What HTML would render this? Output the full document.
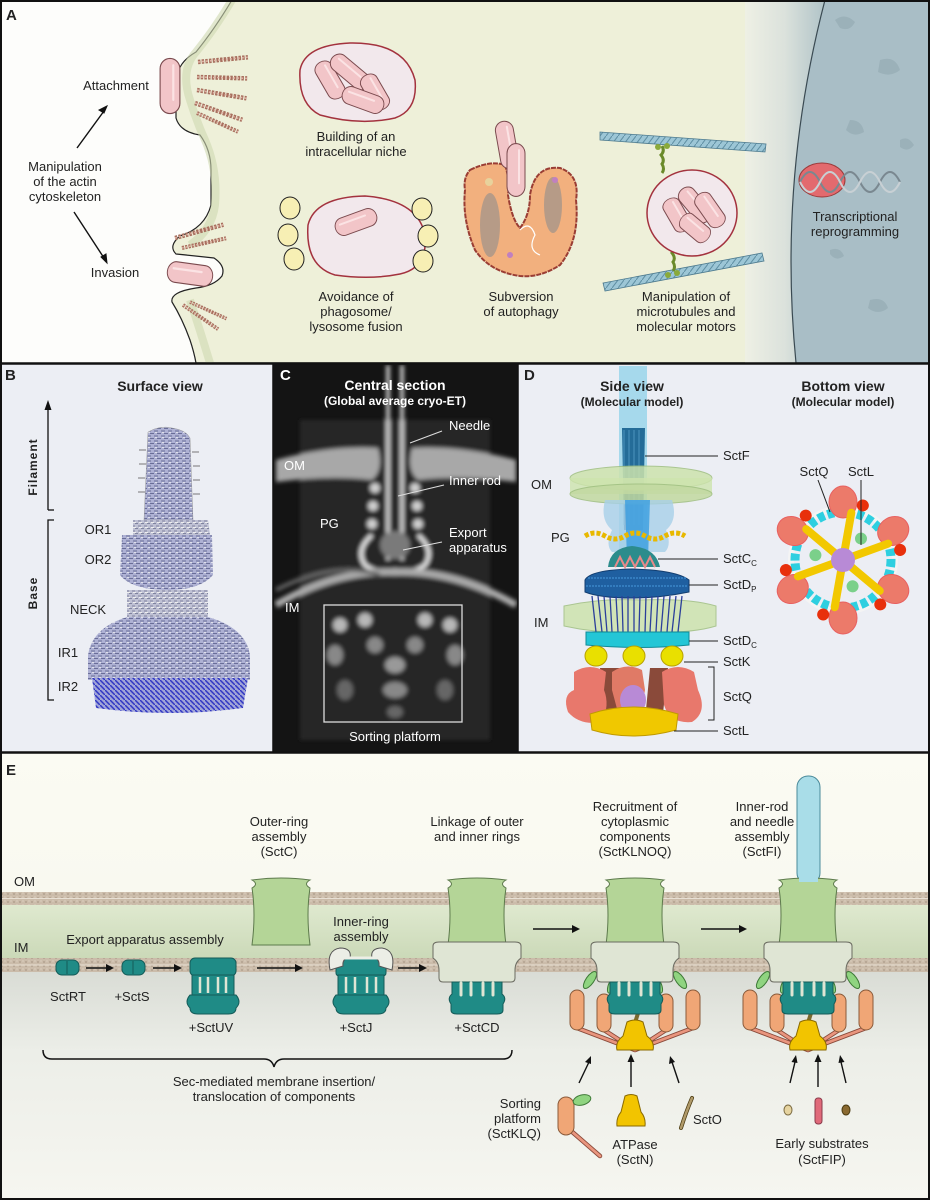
<!DOCTYPE html>
<html><head><meta charset="utf-8"><style>
html,body{margin:0;padding:0;background:#fff}
svg{display:block}
text{font-family:"Liberation Sans",sans-serif;fill:#222}
.t{font-size:13px}
.b{font-weight:bold}
.w{fill:#fff}
</style></head><body>
<svg width="930" height="1200" viewBox="0 0 930 1200" xmlns="http://www.w3.org/2000/svg">
<defs>
<filter id="bl" x="-20%" y="-20%" width="140%" height="140%"><feGaussianBlur stdDeviation="2.2"/></filter>
<linearGradient id="nuc" x1="0" x2="1"><stop offset="0" stop-color="#eef0e6"/><stop offset="0.5" stop-color="#d9e0dc"/><stop offset="1" stop-color="#a9bec6"/></linearGradient>
<linearGradient id="peri" x1="0" y1="0" x2="0" y2="1"><stop offset="0" stop-color="#dfe9cf"/><stop offset="1" stop-color="#cbd9b8"/></linearGradient>
<linearGradient id="cyto" x1="0" y1="0" x2="0" y2="1"><stop offset="0" stop-color="#d9dcd5"/><stop offset="0.35" stop-color="#eceee8"/><stop offset="1" stop-color="#f6f6f0"/></linearGradient>
<linearGradient id="ebg" x1="0" y1="0" x2="0" y2="1"><stop offset="0" stop-color="#fbfbf3"/><stop offset="1" stop-color="#f4f4ea"/></linearGradient>
<pattern id="mem" width="6" height="4" patternUnits="userSpaceOnUse"><rect width="6" height="4" fill="#cbbcaa"/><circle cx="2" cy="2" r="1" fill="#b3a290"/><circle cx="5" cy="1" r="0.7" fill="#ded2c2"/></pattern>
<pattern id="tex" width="7" height="5" patternUnits="userSpaceOnUse"><rect width="7" height="5" fill="#aeb1d4"/><path d="M0 1h4M3 3.5h4" stroke="#6a6e98" stroke-width="1.1"/><path d="M1 2.5h2" stroke="#e0e1ea" stroke-width="1"/></pattern>
<pattern id="tex2" width="6" height="5" patternUnits="userSpaceOnUse"><rect width="6" height="5" fill="#bfc1d4"/><path d="M0 1h3M3 3.5h3" stroke="#80849f" stroke-width="1"/><path d="M1 2.5h3" stroke="#eeeeee" stroke-width="1"/></pattern>
<pattern id="tex3" width="5" height="5" patternUnits="userSpaceOnUse"><rect width="5" height="5" fill="#a0a4d8"/><path d="M0 0l5 5" stroke="#3036c4" stroke-width="1.5"/></pattern>
<pattern id="mt" width="6" height="8" patternUnits="userSpaceOnUse"><rect width="6" height="8" fill="#9cc6d6"/><path d="M0 8L6 0" stroke="#5f8fa3" stroke-width="1"/></pattern>
<g id="bact"><rect x="-24" y="-9" width="48" height="18" rx="9" fill="#f2c5c8" stroke="#7a4a4e" stroke-width="1"/><path d="M-18 -3h30" stroke="#fbe3e4" stroke-width="2" stroke-linecap="round"/></g>
<g id="actin"><path d="M0 0l50 4" stroke="#a8705f" stroke-width="4.5" stroke-dasharray="2.5 1.2"/><path d="M0 0l50 4" stroke="#e0b4a6" stroke-width="1.5" stroke-dasharray="2 2"/></g>
<path id="barrel" d="M-29 880 Q-22 884 -29 888 Q-25 914 -29 945 L29 945 Q25 914 29 888 Q22 884 29 880 Q0 876 -29 880Z" fill="#b4d597" stroke="#5d7a4c" stroke-width="1"/>
<g id="core">
<use href="#barrel"/>
<path d="M-44 946 Q-44 942 -38 942 L38 942 Q44 942 44 946 L44 958 Q38 962 38 970 L38 978 Q38 982 34 982 L-34 982 Q-38 982 -38 978 L-38 970 Q-38 962 -44 958Z" fill="#dfe5d4" stroke="#6a6a60" stroke-width="1"/>
<path d="M-25 982 L25 982 L25 994 Q30 998 26 1004 L26 1010 Q26 1014 20 1014 L-20 1014 Q-26 1014 -26 1010 L-26 1004 Q-30 998 -25 994Z" fill="#1f8b86" stroke="#145b58" stroke-width="1"/>
<path d="M-16 983v12M-6 983v12M6 983v12M16 983v12" stroke="#dfe5d4" stroke-width="3" stroke-linecap="round"/>
</g>
<g id="plat">
<path d="M-58 1028 L0 1050 M-31 1030 L0 1050 M31 1030 L0 1050 M58 1028 L0 1050" stroke="#8a4a3a" stroke-width="4.5" stroke-linecap="round"/>
<path d="M-58 1028 L0 1050 M-31 1030 L0 1050 M31 1030 L0 1050 M58 1028 L0 1050" stroke="#e9957e" stroke-width="2.8" stroke-linecap="round"/>
<rect x="-65" y="990" width="14" height="40" rx="7" fill="#f0a676" stroke="#8a5a3a"/>
<rect x="-38" y="994" width="14" height="38" rx="7" fill="#f0a676" stroke="#8a5a3a"/>
<rect x="24" y="994" width="14" height="38" rx="7" fill="#f0a676" stroke="#8a5a3a"/>
<rect x="51" y="990" width="14" height="40" rx="7" fill="#f0a676" stroke="#8a5a3a"/>
<ellipse cx="-45" cy="980" rx="4" ry="10" transform="rotate(35 -45 980)" fill="#8fd480" stroke="#3f7a38"/>
<ellipse cx="-22" cy="984" rx="4" ry="10" transform="rotate(25 -22 984)" fill="#8fd480" stroke="#3f7a38"/>
<ellipse cx="22" cy="984" rx="4" ry="10" transform="rotate(-25 22 984)" fill="#8fd480" stroke="#3f7a38"/>
<ellipse cx="45" cy="980" rx="4" ry="10" transform="rotate(-35 45 980)" fill="#8fd480" stroke="#3f7a38"/>
<path d="M4 1010 L-1 1026" stroke="#7a6a30" stroke-width="4" stroke-linecap="round"/>
<path d="M-8 1022 Q0 1018 8 1022 L12 1036 Q20 1042 18 1050 L-18 1050 Q-20 1042 -12 1036Z" fill="#f2c400" stroke="#8a6a00"/>
</g>
</defs>

<!-- ================= PANEL A ================= -->
<rect x="0" y="0" width="930" height="363" fill="#fdfdfb"/>
<path d="M232 0 Q214 30 196 52 Q178 62 176 80 L176 118 Q180 132 200 135 Q211 150 211 170 L211 205 Q205 228 180 236 Q168 246 176 254 Q196 256 214 258 Q226 266 222 276 Q214 286 196 288 Q170 292 172 302 Q182 318 190 340 Q194 352 196 363 L930 363 L930 0Z" fill="#eef0d9" stroke="#222" stroke-width="1.2"/>
<path d="M232 0 Q214 30 196 52 Q180 70 190 100 Q196 120 205 140 Q218 170 215 205 Q212 230 190 245 M190 300 Q200 330 210 363" stroke="#cfd8b0" stroke-width="8" fill="none" opacity="0.6"/>
<path d="M745 0 L825 0 Q785 180 796 363 L745 363Z" fill="url(#nuc)" opacity="0.9"/>
<path d="M825 0 Q778 180 796 363 L930 363 L930 0Z" fill="#a9bec6" stroke="#3a4a52" stroke-width="1.2"/>
<path d="M835 20 q10 -8 20 2 q-5 10 -15 6z M880 60 q15 -5 20 10 q-10 8 -22 2z M850 120 q12 0 14 12 q-10 6 -18 -2z M900 140 q8 -5 14 5 q-6 8 -14 2z M870 300 q14 -4 18 8 q-10 8 -20 0z M830 250 q10 -4 14 6 q-8 6 -14 -2z" fill="#9bb1b9"/>
<text x="6" y="20" class="b" font-size="15">A</text>
<use href="#bact" transform="translate(170 86) rotate(90) scale(1.15 1.1)"/>
<use href="#actin" transform="translate(198 62) rotate(-10)"/>
<use href="#actin" transform="translate(197 77) rotate(-3)"/>
<use href="#actin" transform="translate(197 90) rotate(5)"/>
<use href="#actin" transform="translate(195 103) rotate(15)"/>
<use href="#actin" transform="translate(197 113) rotate(20) scale(0.9)"/>
<use href="#actin" transform="translate(175 238) rotate(-20)"/>
<use href="#actin" transform="translate(182 248) rotate(-17) scale(0.9)"/>
<use href="#actin" transform="translate(183 305) rotate(30) scale(0.85)"/>
<use href="#actin" transform="translate(190 302) rotate(20) scale(0.8)"/>
<use href="#bact" transform="translate(190 274) rotate(8) scale(0.95 1.15)"/>
<text x="116" y="90" class="t" text-anchor="middle">Attachment</text>
<text x="65" y="171" class="t" text-anchor="middle">Manipulation</text>
<text x="65" y="186" class="t" text-anchor="middle">of the actin</text>
<text x="65" y="201" class="t" text-anchor="middle">cytoskeleton</text>
<text x="115" y="277" class="t" text-anchor="middle">Invasion</text>
<path d="M77 148 L104 111" stroke="#111" stroke-width="1.4"/><path d="M107 106 l-8 4 l5 3z" fill="#111" stroke="#111"/>
<path d="M74 212 L104 258" stroke="#111" stroke-width="1.4"/><path d="M107 263 l-1 -9 l-5 3z" fill="#111" stroke="#111"/>
<path d="M300 70 Q305 45 350 43 Q405 42 415 80 Q418 110 395 118 Q360 126 320 115 Q298 104 300 70Z" fill="#f2e8ec" stroke="#a3323e" stroke-width="1.5"/>
<use href="#bact" transform="translate(330 80) rotate(60) scale(0.85 1)"/>
<use href="#bact" transform="translate(350 72) rotate(40) scale(0.95 1)"/>
<use href="#bact" transform="translate(375 92) rotate(60) scale(0.8 1)"/>
<use href="#bact" transform="translate(363 100) rotate(20) scale(0.9 1)"/>
<text x="356" y="141" class="t" text-anchor="middle">Building of an</text>
<text x="356" y="156" class="t" text-anchor="middle">intracellular niche</text>
<path d="M308 225 Q315 197 365 196 Q418 200 425 235 Q428 268 400 274 Q370 280 335 275 Q305 266 308 225Z" fill="#f2e8ec" stroke="#a3323e" stroke-width="1.5"/>
<use href="#bact" transform="translate(356 222) rotate(-20) scale(0.9 1)"/>
<g fill="#f7efb4" stroke="#222" stroke-width="1"><ellipse cx="290" cy="208" rx="10" ry="11"/><ellipse cx="288" cy="235" rx="10" ry="11"/><ellipse cx="294" cy="259" rx="10" ry="11"/><ellipse cx="422" cy="209" rx="10" ry="11"/><ellipse cx="428" cy="236" rx="10" ry="11"/><ellipse cx="423" cy="261" rx="10" ry="11"/></g>
<text x="356" y="301" class="t" text-anchor="middle">Avoidance of</text>
<text x="356" y="316" class="t" text-anchor="middle">phagosome/</text>
<text x="356" y="331" class="t" text-anchor="middle">lysosome fusion</text>
<path d="M470 170 Q490 160 505 165 Q510 180 508 195 Q512 220 520 228 Q530 215 530 195 Q535 165 560 168 Q580 175 576 200 Q580 240 560 265 Q540 278 520 276 Q490 272 475 250 Q462 220 465 190 Q463 178 470 170Z" fill="#f2b07e" stroke="#9a3d34" stroke-width="2" stroke-dasharray="5 1"/>
<ellipse cx="490" cy="225" rx="10" ry="32" fill="#8e8e8e" opacity="0.6"/>
<ellipse cx="553" cy="205" rx="9" ry="28" fill="#8e8e8e" opacity="0.6"/>
<path d="M520 230 q10 -10 15 5 q-8 15 5 20" stroke="#fff" fill="none" stroke-width="1.2"/>
<circle cx="489" cy="182" r="4" fill="#e8d29c"/><circle cx="555" cy="180" r="3" fill="#c080c0"/><circle cx="510" cy="255" r="3" fill="#c080c0"/>
<use href="#bact" transform="translate(507 145) rotate(80) scale(1 1)"/>
<use href="#bact" transform="translate(516 170) rotate(90) scale(1.1 1)"/>
<text x="521" y="301" class="t" text-anchor="middle">Subversion</text>
<text x="521" y="316" class="t" text-anchor="middle">of autophagy</text>
<path d="M600 132 L766 144 L765 152 L600 140Z" fill="url(#mt)" stroke="#4d7a8e" stroke-width="0.8"/>
<path d="M603 283 L762 253 L764 261 L605 291Z" fill="url(#mt)" stroke="#4d7a8e" stroke-width="0.8"/>
<path d="M662 146 q3 5 -1 9 q4 5 1 9 q3 5 0 9" stroke="#6a8a2a" stroke-width="3" fill="none"/>
<path d="M673 244 q3 5 -1 9 q4 5 1 9 q3 5 0 9" stroke="#6a8a2a" stroke-width="3" fill="none"/>
<circle cx="658" cy="147" r="3" fill="#8aaa3a"/><circle cx="667" cy="146" r="3" fill="#8aaa3a"/><circle cx="668" cy="275" r="3" fill="#8aaa3a"/><circle cx="677" cy="273" r="3" fill="#8aaa3a"/>
<ellipse cx="692" cy="213" rx="45" ry="43" fill="#f2e8ec" stroke="#a3323e" stroke-width="1.5"/>
<use href="#bact" transform="translate(677 215) rotate(60) scale(0.75 1)"/>
<use href="#bact" transform="translate(695 205) rotate(50) scale(0.85 1)"/>
<use href="#bact" transform="translate(710 210) rotate(55) scale(0.8 1)"/>
<use href="#bact" transform="translate(695 228) rotate(40) scale(0.7 1)"/>
<text x="686" y="301" class="t" text-anchor="middle">Manipulation of</text>
<text x="686" y="316" class="t" text-anchor="middle">microtubules and</text>
<text x="686" y="331" class="t" text-anchor="middle">molecular motors</text>
<ellipse cx="822" cy="180" rx="23" ry="17" fill="#e36a6e" stroke="#9a3a3a"/>
<path d="M800 182 q10 -20 20 0 t20 0 t20 0 t20 0 t20 0" stroke="#7a8890" stroke-width="2" fill="none"/>
<path d="M800 182 q10 20 20 0 t20 0 t20 0 t20 0 t20 0" stroke="#c8d0d4" stroke-width="2" fill="none"/>
<text x="855" y="221" class="t" text-anchor="middle">Transcriptional</text>
<text x="855" y="236" class="t" text-anchor="middle">reprogramming</text>

<!-- ================= PANEL B ================= -->
<rect x="0" y="364" width="273" height="389" fill="#eceef4"/>
<text x="5" y="380" class="b" font-size="15">B</text>
<text x="160" y="391" class="b" font-size="14" text-anchor="middle">Surface view</text>
<path d="M48 510 V408" stroke="#111" stroke-width="1.3"/><path d="M48 400 l-3.5 10 h7z" fill="#111"/>
<path d="M48 510 h6" stroke="#111" stroke-width="1.3"/>
<path d="M54 520 h-6 V700 h6" stroke="#111" stroke-width="1.3" fill="none"/>
<text transform="translate(37 467) rotate(-90)" class="b" font-size="12" text-anchor="middle" letter-spacing="1">Filament</text>
<text transform="translate(37 593) rotate(-90)" class="b" font-size="12" text-anchor="middle" letter-spacing="1">Base</text>
<path d="M148 432 Q160 425 172 428 Q186 430 190 438 L193 520 L144 520 Z" fill="url(#tex)" stroke="#999" stroke-width="0.5"/>
<path d="M146 450h-7M146 464h-7M145 478h-7M145 492h-7M192 452h7M193 466h7M193 480h7M193 494h7" stroke="#777" stroke-width="1"/>
<path d="M133 520 L208 520 L210 535 L133 535Z" fill="url(#tex2)"/>
<path d="M122 535 L212 535 L213 575 Q200 590 168 590 Q132 590 120 575Z" fill="url(#tex)"/>
<path d="M127 590 L208 590 L208 617 L127 617Z" fill="url(#tex2)"/>
<path d="M127 617 Q92 628 88 655 L88 680 L250 680 L250 655 Q246 628 208 617Z" fill="url(#tex)"/>
<path d="M92 678 L248 678 L243 708 Q170 718 96 708Z" fill="url(#tex3)"/>
<text x="98" y="534" class="t" text-anchor="middle">OR1</text>
<text x="98" y="564" class="t" text-anchor="middle">OR2</text>
<text x="88" y="614" class="t" text-anchor="middle">NECK</text>
<text x="68" y="657" class="t" text-anchor="middle">IR1</text>
<text x="68" y="691" class="t" text-anchor="middle">IR2</text>

<!-- ================= PANEL C ================= -->
<rect x="273" y="364" width="245" height="389" fill="#141414"/>
<g filter="url(#bl)">
<rect x="300" y="420" width="190" height="320" fill="#262626"/>
<path d="M276 460 Q330 445 378 448 Q384 470 372 480 Q330 475 276 482Z" fill="#a8a8a8"/>
<path d="M516 460 Q460 445 412 448 Q406 470 418 480 Q460 475 516 482Z" fill="#a8a8a8"/>
<path d="M388 365 V560 M402 365 V560" stroke="#dcdcdc" stroke-width="3.5"/>
<circle cx="375" cy="488" r="5" fill="#d0d0d0"/><circle cx="415" cy="488" r="5" fill="#d0d0d0"/>
<circle cx="373" cy="506" r="5" fill="#d0d0d0"/><circle cx="417" cy="506" r="5" fill="#d0d0d0"/>
<circle cx="372" cy="524" r="5" fill="#d0d0d0"/><circle cx="418" cy="524" r="5" fill="#d0d0d0"/>
<path d="M372 535 Q355 550 365 565 Q378 575 395 570 Q412 575 425 565 Q435 550 418 535" stroke="#e6e6e6" stroke-width="4" fill="none"/>
<ellipse cx="395" cy="545" rx="15" ry="14" fill="#7a7a7a"/>
<path d="M276 605 Q335 570 395 572 Q455 570 516 605" stroke="#aaa" stroke-width="7" fill="none"/>
<path d="M276 590 Q335 560 380 575" stroke="#666" stroke-width="4" fill="none"/>
<g fill="#b8b8b8"><circle cx="340" cy="625" r="7"/><circle cx="365" cy="620" r="7"/><circle cx="425" cy="620" r="7"/><circle cx="450" cy="625" r="7"/>
<circle cx="375" cy="645" r="8" fill="#888"/><circle cx="415" cy="645" r="8" fill="#888"/>
<ellipse cx="335" cy="655" rx="8" ry="10" fill="#888"/><ellipse cx="455" cy="655" rx="8" ry="10" fill="#888"/>
<ellipse cx="395" cy="665" rx="10" ry="8" fill="#999"/><ellipse cx="395" cy="690" rx="12" ry="8" fill="#888"/>
<ellipse cx="345" cy="690" rx="8" ry="10" fill="#666"/><ellipse cx="445" cy="690" rx="8" ry="10" fill="#666"/>
<ellipse cx="395" cy="712" rx="8" ry="6" fill="#666"/></g>
</g>
<rect x="324" y="605" width="138" height="117" fill="none" stroke="#ddd" stroke-width="1.3"/>
<text x="280" y="380" class="b w" font-size="15">C</text>
<text x="395" y="390" class="b w" font-size="14" text-anchor="middle">Central section</text>
<text x="395" y="405" class="b w" font-size="12" text-anchor="middle">(Global average cryo-ET)</text>
<g stroke="#ddd" stroke-width="1.1"><path d="M442 431 L410 443"/><path d="M444 485 L398 496"/><path d="M442 542 L403 550"/></g>
<text x="449" y="430" class="t w">Needle</text>
<text x="284" y="470" class="t w">OM</text>
<text x="449" y="485" class="t w">Inner rod</text>
<text x="320" y="528" class="t w">PG</text>
<text x="449" y="537" class="t w">Export</text>
<text x="449" y="552" class="t w">apparatus</text>
<text x="285" y="612" class="t w">IM</text>
<text x="395" y="741" class="t w" text-anchor="middle">Sorting platform</text>

<!-- ================= PANEL D ================= -->
<rect x="518" y="364" width="412" height="389" fill="#eceef4"/>
<rect x="619" y="366" width="28" height="190" fill="#8fd1ea" opacity="0.75"/>
<text x="524" y="380" class="b" font-size="15">D</text>
<text x="632" y="391" class="b" font-size="14" text-anchor="middle">Side view</text>
<text x="632" y="406" class="b" font-size="12" text-anchor="middle">(Molecular model)</text>
<text x="843" y="391" class="b" font-size="14" text-anchor="middle">Bottom view</text>
<text x="843" y="406" class="b" font-size="12" text-anchor="middle">(Molecular model)</text>
<path d="M622 428 L645 428 L643 530 L624 530Z" fill="#246c98"/>
<path d="M624 430 v95 M629 430 v95 M634 430 v95 M639 430 v95" stroke="#4d94be" stroke-width="1"/>
<ellipse cx="641" cy="478" rx="71" ry="12" fill="#cde3ad" stroke="#9fbf80" opacity="0.85"/>
<rect x="570" y="478" width="142" height="16" fill="#cde3ad" opacity="0.8"/>
<ellipse cx="641" cy="494" rx="71" ry="10" fill="#c2d9a0" stroke="#9fbf80" opacity="0.85"/>
<path d="M605 500 Q600 520 612 530 Q605 545 612 552 L665 552 Q672 545 666 530 Q678 520 672 500Z" fill="#a8cfe8" opacity="0.8"/>
<path d="M625 500 L650 500 L648 560 L627 560Z" fill="#3a9ee0" opacity="0.8"/>
<path d="M585 536 q10 -6 20 0 t20 0 t20 0 t20 0 t20 0" stroke="#e8b800" stroke-width="5" fill="none" stroke-dasharray="4 2"/>
<path d="M608 567 Q610 548 632 546 Q656 548 660 567Z" fill="#2c8c8c"/>
<path d="M615 567 l5 -10 l5 10 l5 -10 l5 10 l5 -10 l5 10 l5 -10 l5 10" stroke="#e88a8a" stroke-width="2" fill="none"/>
<path d="M585 580 Q590 570 632 569 Q676 570 689 580 L689 592 Q660 598 632 598 Q600 598 585 592Z" fill="#1f5fa0" stroke="#133e70"/>
<path d="M588 578 h98 M586 586 h101" stroke="#3a86c8" stroke-width="1.5" stroke-dasharray="2 1"/>
<path d="M564 606 Q600 598 640 600 Q690 598 716 606 L716 626 Q690 634 640 632 Q600 634 564 626Z" fill="#cde3ad" stroke="#9fbf80" opacity="0.85"/>
<g stroke="#2b3f9a" stroke-width="1.3"><path d="M592 596 L596 632M598 596 L602 632M604 596 L607 632M610 596 L612 632M616 596 L618 632M622 596 L623 632M628 596 L628 632M634 596 L634 632M640 596 L639 632M646 596 L645 632M652 596 L650 632M658 596 L656 632M664 596 L661 632M670 596 L667 632M676 596 L672 632M682 596 L678 632"/></g>
<path d="M586 632 L689 632 L689 645 Q640 650 586 645Z" fill="#23c6d6" stroke="#0f8a96"/>
<g fill="#8a4a3a"><path d="M600 668 L620 668 L625 720 L605 722Z"/><path d="M650 668 L668 668 L662 722 L645 720Z"/></g>
<g fill="#e9e000" stroke="#b8a000"><ellipse cx="596" cy="656" rx="11" ry="10"/><ellipse cx="634" cy="656" rx="11" ry="10"/><ellipse cx="672" cy="656" rx="11" ry="10"/></g>
<g fill="#e8786c">
<path d="M574 672 Q590 662 606 672 L604 690 Q610 705 602 722 Q580 726 568 712 Q562 695 574 690Z"/>
<path d="M612 672 Q626 662 642 670 L645 690 L640 718 L620 720 L612 690Z" fill="#e07a66"/>
<path d="M662 672 Q678 662 694 672 L698 690 Q708 712 692 722 Q670 724 664 705Z"/>
</g>
<ellipse cx="633" cy="700" rx="13" ry="15" fill="#b88ad6"/>
<path d="M590 714 Q632 700 678 714 L676 730 Q632 742 592 730Z" fill="#f0c800" stroke="#c09a00"/>
<g stroke="#222" stroke-width="1"><path d="M645 456 H718"/><path d="M658 559 H718"/><path d="M689 585 H718"/><path d="M689 641 H718"/><path d="M684 662 H718"/><path d="M674 731 H718"/><path d="M708 667 h6 v53 h-6" fill="none"/></g>
<text x="723" y="460" class="t">SctF</text>
<text x="723" y="563" class="t">SctC<tspan font-size="8" dy="3">C</tspan></text>
<text x="723" y="589" class="t">SctD<tspan font-size="8" dy="3">P</tspan></text>
<text x="723" y="645" class="t">SctD<tspan font-size="8" dy="3">C</tspan></text>
<text x="723" y="666" class="t">SctK</text>
<text x="723" y="701" class="t">SctQ</text>
<text x="723" y="735" class="t">SctL</text>
<text x="531" y="489" class="t">OM</text>
<text x="551" y="542" class="t">PG</text>
<text x="534" y="627" class="t">IM</text>
<g transform="translate(843 560)">
<circle r="52" fill="none" stroke="#f4f4f4" stroke-width="6"/>
<circle r="48" fill="none" stroke="#2ecfe0" stroke-width="9" stroke-dasharray="7 3"/>
<g fill="#ec7a6a" stroke="#e86060">
<ellipse cx="0" cy="-58" rx="14" ry="16"/>
<ellipse cx="0" cy="-58" rx="14" ry="16" transform="rotate(60)"/>
<ellipse cx="0" cy="-58" rx="14" ry="16" transform="rotate(120)"/>
<ellipse cx="0" cy="-58" rx="14" ry="16" transform="rotate(180)"/>
<ellipse cx="0" cy="-58" rx="14" ry="16" transform="rotate(240)"/>
<ellipse cx="0" cy="-58" rx="14" ry="16" transform="rotate(300)"/>
</g>
<g fill="#e8300c"><circle cx="0" cy="-58" r="6" transform="rotate(20)"/><circle cx="0" cy="-58" r="6" transform="rotate(80)"/><circle cx="0" cy="-58" r="6" transform="rotate(140)"/><circle cx="0" cy="-58" r="6" transform="rotate(200)"/><circle cx="0" cy="-58" r="6" transform="rotate(260)"/><circle cx="0" cy="-58" r="6" transform="rotate(320)"/></g>
<g stroke="#f2c800" stroke-width="8" stroke-linecap="round"><path d="M0 0 L0 -48" transform="rotate(10)"/><path d="M0 0 L0 -48" transform="rotate(70)"/><path d="M0 0 L0 -48" transform="rotate(130)"/><path d="M0 0 L0 -48" transform="rotate(190)"/><path d="M0 0 L0 -48" transform="rotate(250)"/><path d="M0 0 L0 -48" transform="rotate(310)"/></g>
<g fill="#7bd08a"><circle cx="0" cy="-28" r="6" transform="rotate(40)"/><circle cx="0" cy="-28" r="6" transform="rotate(160)"/><circle cx="0" cy="-28" r="6" transform="rotate(280)"/></g>
<circle r="12" fill="#b88ad6"/>
</g>
<g stroke="#222" stroke-width="1"><path d="M818 480 L830 512"/><path d="M861 480 L861 545"/></g>
<text x="814" y="476" class="t" text-anchor="middle">SctQ</text>
<text x="861" y="476" class="t" text-anchor="middle">SctL</text>

<!-- ================= PANEL E ================= -->
<rect x="0" y="753" width="930" height="447" fill="url(#ebg)"/>
<rect x="0" y="905" width="930" height="53" fill="url(#peri)"/>
<rect x="0" y="972" width="930" height="228" fill="url(#cyto)"/>
<rect x="0" y="892" width="930" height="13" fill="url(#mem)"/>
<rect x="0" y="958" width="930" height="14" fill="url(#mem)"/>
<path d="M0 898.5H930M0 965H930" stroke="#e8e0d4" stroke-width="1"/>
<text x="6" y="775" class="b" font-size="15">E</text>
<text x="14" y="886" class="t">OM</text>
<text x="14" y="952" class="t">IM</text>
<text x="145" y="944" class="t" text-anchor="middle">Export apparatus assembly</text>
<g fill="#1f8b86" stroke="#145b58"><rect x="56" y="960" width="23" height="15" rx="6"/><rect x="122" y="960" width="23" height="15" rx="6"/></g>
<path d="M67 961v13M133 961v13" stroke="#145b58"/>
<text x="68" y="1001" class="t" text-anchor="middle">SctRT</text>
<text x="132" y="1001" class="t" text-anchor="middle">+SctS</text>
<g fill="#1f8b86" stroke="#145b58"><rect x="190" y="958" width="46" height="18" rx="5"/><rect x="192" y="975" width="42" height="20"/><path d="M190 995 L236 995 Q242 1002 236 1008 Q236 1014 228 1014 L198 1014 Q190 1014 190 1008 Q184 1002 190 995Z"/></g>
<path d="M200 977v16M208 977v16M218 977v16M226 977v16" stroke="#dfe5d4" stroke-width="2.5"/>
<text x="211" y="1032" class="t" text-anchor="middle">+SctUV</text>
<g stroke="#111" stroke-width="1.6"><path d="M86 968 H108"/><path d="M153 968 H176"/><path d="M257 968 H297"/><path d="M398 968 H421"/><path d="M533 929 H574"/><path d="M701 929 H741"/></g>
<g fill="#111"><path d="M114 968l-8 -4v8z"/><path d="M182 968l-8 -4v8z"/><path d="M303 968l-8 -4v8z"/><path d="M427 968l-8 -4v8z"/><path d="M580 929l-8 -4v8z"/><path d="M747 929l-8 -4v8z"/></g>
<use href="#barrel" transform="translate(281 0)"/>
<text x="279" y="826" class="t" text-anchor="middle">Outer-ring</text>
<text x="279" y="841" class="t" text-anchor="middle">assembly</text>
<text x="279" y="856" class="t" text-anchor="middle">(SctC)</text>
<g fill="#1f8b86" stroke="#145b58"><rect x="336" y="958" width="50" height="18" rx="3"/><rect x="338" y="975" width="46" height="20"/><path d="M336 995 L386 995 Q392 1002 386 1008 Q386 1014 378 1014 L344 1014 Q336 1014 336 1008 Q330 1002 336 995Z"/></g>
<path d="M346 977v16M355 977v16M367 977v16M376 977v16" stroke="#dfe5d4" stroke-width="2.5"/>
<path d="M330 970 Q326 950 340 948 Q352 948 350 958 Q342 958 343 966Z M392 970 Q396 950 382 948 Q370 948 372 958 Q380 958 379 966Z" fill="#eceee6" stroke="#555"/>
<path d="M336 958 H386" stroke="#eceee6" stroke-width="3"/>
<text x="361" y="926" class="t" text-anchor="middle">Inner-ring</text>
<text x="361" y="941" class="t" text-anchor="middle">assembly</text>
<text x="356" y="1032" class="t" text-anchor="middle">+SctJ</text>
<use href="#core" transform="translate(477 0)"/>
<text x="477" y="826" class="t" text-anchor="middle">Linkage of outer</text>
<text x="477" y="841" class="t" text-anchor="middle">and inner rings</text>
<text x="477" y="1032" class="t" text-anchor="middle">+SctCD</text>
<use href="#plat" transform="translate(635 0)"/>
<use href="#core" transform="translate(635 0)"/>
<text x="635" y="811" class="t" text-anchor="middle">Recruitment of</text>
<text x="635" y="826" class="t" text-anchor="middle">cytoplasmic</text>
<text x="635" y="841" class="t" text-anchor="middle">components</text>
<text x="635" y="856" class="t" text-anchor="middle">(SctKLNOQ)</text>
<rect x="797" y="776" width="23" height="108" rx="11" fill="#a9dde8" stroke="#4a8a9a"/>
<use href="#plat" transform="translate(808 0)"/>
<use href="#core" transform="translate(808 0)"/>
<rect x="799" y="870" width="19" height="12" fill="#a9dde8"/>
<text x="762" y="811" class="t" text-anchor="middle">Inner-rod</text>
<text x="762" y="826" class="t" text-anchor="middle">and needle</text>
<text x="762" y="841" class="t" text-anchor="middle">assembly</text>
<text x="762" y="856" class="t" text-anchor="middle">(SctFI)</text>
<path d="M43 1050 Q43 1059 52 1059 L264 1059 Q272 1059 274 1067 Q276 1059 284 1059 L503 1059 Q512 1059 512 1050" stroke="#111" stroke-width="1.5" fill="none"/>
<text x="274" y="1086" class="t" text-anchor="middle">Sec-mediated membrane insertion/</text>
<text x="274" y="1101" class="t" text-anchor="middle">translocation of components</text>
<g stroke="#111" stroke-width="1.4"><path d="M579 1083 L589 1062"/><path d="M631 1087 V1061"/><path d="M679 1083 L672 1062"/><path d="M790 1083 L795 1062"/><path d="M818 1087 V1061"/><path d="M846 1083 L841 1062"/></g>
<g fill="#111"><path d="M591 1056l-6 6 l6 2z"/><path d="M631 1054l-3.5 8h7z"/><path d="M670 1056l-1 8 l6 -2z"/><path d="M796 1055l-4.5 7 l6 1z"/><path d="M818 1054l-3.5 8h7z"/><path d="M840 1055l-1.5 8 l6 -1z"/></g>
<path d="M570 1130 L600 1156" stroke="#8a4a3a" stroke-width="4.5" stroke-linecap="round"/>
<path d="M570 1130 L600 1156" stroke="#e9957e" stroke-width="2.8" stroke-linecap="round"/>
<rect x="558" y="1097" width="16" height="38" rx="8" fill="#f0a676" stroke="#8a5a3a"/>
<ellipse cx="582" cy="1100" rx="9" ry="5" fill="#8fd480" stroke="#3f7a38" transform="rotate(-15 582 1100)"/>
<text x="541" y="1108" class="t" text-anchor="end">Sorting</text>
<text x="541" y="1123" class="t" text-anchor="end">platform</text>
<text x="541" y="1138" class="t" text-anchor="end">(SctKLQ)</text>
<path d="M625 1096 Q631 1093 637 1096 L641 1112 Q646 1118 645 1126 L617 1126 Q616 1118 621 1112Z" fill="#f2c400" stroke="#8a6a00"/>
<text x="635" y="1149" class="t" text-anchor="middle">ATPase</text>
<text x="635" y="1164" class="t" text-anchor="middle">(SctN)</text>
<path d="M692 1098 Q686 1112 681 1128" stroke="#4a3a10" stroke-width="4" stroke-linecap="round"/>
<path d="M692 1098 Q686 1112 681 1128" stroke="#b09a6a" stroke-width="2.5" stroke-linecap="round"/>
<text x="693" y="1124" class="t">SctO</text>
<ellipse cx="788" cy="1110" rx="4" ry="5" fill="#e6d4a0" stroke="#7a6a40"/>
<rect x="815" y="1098" width="7" height="26" rx="3" fill="#e06a7a" stroke="#8a3a4a"/>
<ellipse cx="846" cy="1110" rx="4" ry="5" fill="#8a6a30" stroke="#4a3a10"/>
<text x="822" y="1148" class="t" text-anchor="middle">Early substrates</text>
<text x="822" y="1164" class="t" text-anchor="middle">(SctFIP)</text>

<g stroke="#111" fill="none"><rect x="1" y="1" width="928" height="1198" stroke-width="2"/><path d="M0 363.5H930M0 752.5H930" stroke-width="2.5"/><path d="M273 364V752M518 364V752" stroke-width="1.5"/></g>
</svg>
</body></html>
